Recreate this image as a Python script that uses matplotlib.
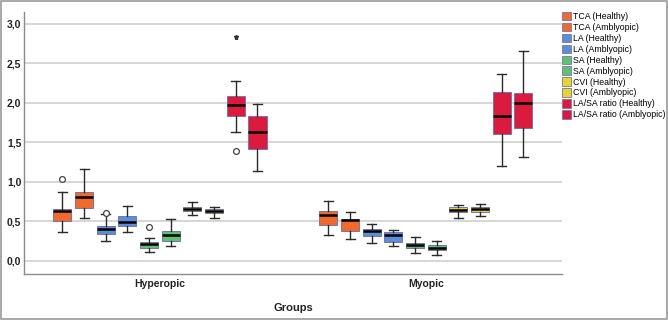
import matplotlib.pyplot as plt
from matplotlib.patches import Patch, Rectangle


# ============================================================
# DATOS
# ============================================================

GROUPS = ["Hyperopic", "Myopic"]

SERIES = [
    "TCA (Healthy)", "TCA (Amblyopic)",
    "LA (Healthy)", "LA (Amblyopic)",
    "SA (Healthy)", "SA (Amblyopic)",
    "CVI (Healthy)", "CVI (Amblyopic)",
    "LA/SA ratio (Healthy)", "LA/SA ratio (Amblyopic)",
]

COLORS = [
    "#F26A2B", "#F26A2B",
    "#5B8ED8", "#5B8ED8",
    "#5CC46F", "#5CC46F",
    "#E6D62C", "#E6D62C",
    "#DC1A3E", "#DC1A3E",
]

# cada fila: [Hyperopic, Myopic]
WHISLO = [
    [0.36, 0.32], [0.54, 0.27],
    [0.25, 0.22], [0.36, 0.18],
    [0.115, 0.10], [0.18, 0.075],
    [0.58, 0.535], [0.54, 0.565],
    [1.63, 1.20], [1.135, 1.31],
]

Q1 = [
    [0.50, 0.45], [0.67, 0.37],
    [0.34, 0.31], [0.435, 0.24],
    [0.16, 0.16], [0.25, 0.13],
    [0.63, 0.615], [0.60, 0.62],
    [1.83, 1.61], [1.42, 1.68],
]

MEDIAN = [
    [0.63, 0.575], [0.81, 0.51],
    [0.405, 0.375], [0.49, 0.32],
    [0.21, 0.195], [0.325, 0.16],
    [0.655, 0.645], [0.63, 0.655],
    [1.97, 1.835], [1.63, 2.00],
]

Q3 = [
    [0.66, 0.63], [0.87, 0.53],
    [0.44, 0.40], [0.56, 0.36],
    [0.24, 0.225], [0.38, 0.20],
    [0.68, 0.68], [0.65, 0.685],
    [2.08, 2.14], [1.83, 2.12],
]

WHISHI = [
    [0.87, 0.755], [1.16, 0.62],
    [0.59, 0.47], [0.69, 0.39],
    [0.29, 0.295], [0.53, 0.25],
    [0.74, 0.70], [0.685, 0.72],
    [2.28, 2.36], [1.99, 2.65],
]

OUTLIERS = [
    [[1.03], []], [[], []],
    [[0.61], []], [[], []],
    [[0.43], []], [[], []],
    [[], []], [[], []],
    [[1.39], []], [[], []],
]

EXTREMES = [
    [[], []], [[], []],
    [[], []], [[], []],
    [[], []], [[], []],
    [[], []], [[], []],
    [[2.83], []], [[], []],
]

Y_TICKS = [0.0, 0.5, 1.0, 1.5, 2.0, 2.5, 3.0]


# ============================================================
# GRÁFICO
# ============================================================

def main() -> None:

    plt.rcParams["font.family"] = ["Liberation Sans", "DejaVu Sans"]

    fig = plt.figure(figsize=(6.68, 3.2), dpi=100)
    ax = fig.add_axes([0.036, 0.144, 0.805, 0.8185])

    step = 0.0815
    width = 0.068
    n = len(SERIES)

    for s in range(n):
        for g in range(len(GROUPS)):
            pos = g + (s - (n - 1) / 2) * step
            stats = [{
                "whislo": WHISLO[s][g],
                "q1": Q1[s][g],
                "med": MEDIAN[s][g],
                "q3": Q3[s][g],
                "whishi": WHISHI[s][g],
                "fliers": [],
            }]
            ax.bxp(
                stats,
                positions=[pos],
                widths=width,
                patch_artist=True,
                showfliers=False,
                boxprops=dict(facecolor=COLORS[s], edgecolor="#7b74a8", linewidth=0.7),
                medianprops=dict(color="black", linewidth=1.8),
                whiskerprops=dict(color="#2b2b2b", linewidth=1.0),
                capprops=dict(color="#2b2b2b", linewidth=1.0),
                manage_ticks=False,
                zorder=3,
            )
            if OUTLIERS[s][g]:
                ax.plot(
                    [pos] * len(OUTLIERS[s][g]), OUTLIERS[s][g],
                    "o", mfc="white", mec="#444444", ms=4.2, mew=0.9, zorder=4,
                )
            if EXTREMES[s][g]:
                ax.plot(
                    [pos] * len(EXTREMES[s][g]), EXTREMES[s][g],
                    "*", color="#333333", ms=3.6, zorder=4,
                )

    ax.set_xlim(-0.511, 1.511)
    ax.set_ylim(-0.168, 3.15)

    ax.set_yticks(Y_TICKS)
    ax.set_yticklabels([f"{v:.1f}".replace(".", ",") for v in Y_TICKS],
                       fontsize=7.5, fontweight="bold", color="#222222")
    ax.set_xticks(range(len(GROUPS)))
    ax.set_xticklabels(GROUPS, fontsize=7.5, fontweight="bold", color="#222222")
    ax.tick_params(axis="y", length=0, pad=2)
    ax.tick_params(axis="x", length=0, pad=4)

    ax.yaxis.grid(True, color="#cfcfcf", linewidth=1.2)
    ax.set_axisbelow(True)

    for side in ["top", "right"]:
        ax.spines[side].set_visible(False)
    for side in ["left", "bottom"]:
        ax.spines[side].set_color("#8a8a8a")
        ax.spines[side].set_linewidth(1.0)

    ax.set_xlabel("Groups", fontsize=8, fontweight="bold", color="#222222", labelpad=10)

    handles = [
        Patch(facecolor=COLORS[i], edgecolor="#7b74a8", linewidth=0.6, label=SERIES[i])
        for i in range(n)
    ]
    fig.legend(
        handles=handles,
        loc="upper left",
        bbox_to_anchor=(0.841, 0.963),
        frameon=False,
        fontsize=6.3,
        handlelength=1.0,
        handleheight=1.1,
        handletextpad=0.25,
        labelspacing=0.2,
        borderaxespad=0,
        borderpad=0,
    )

    fig.patches.append(Rectangle((0.001, 0.002), 0.997, 0.995, transform=fig.transFigure,
                                 fill=False, edgecolor="#9a9a9a", linewidth=1.2))

    fig.savefig("out.png", dpi=100)
    plt.close(fig)


if __name__ == "__main__":
    main()
